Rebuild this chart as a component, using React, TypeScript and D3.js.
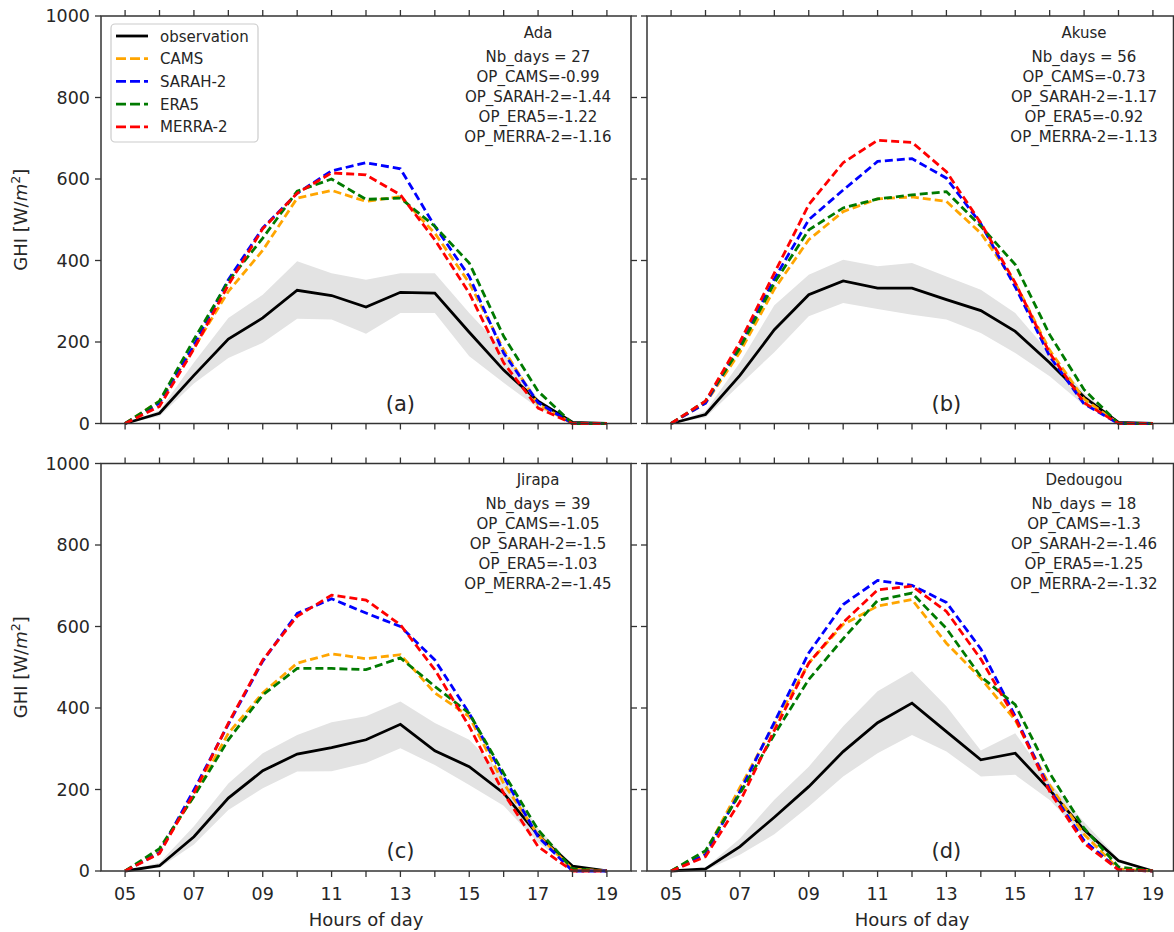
import React from "react";
import * as d3 from "d3";

// ---------- data ----------
const hours = [5, 6, 7, 8, 9, 10, 11, 12, 13, 14, 15, 16, 17, 18, 19];
const xTickLabels = ["05", "07", "09", "11", "13", "15", "17", "19"];
const yTicks = [0, 200, 400, 600, 800, 1000];
const seriesNames = ["CAMS", "SARAH-2", "ERA5", "MERRA-2"];
const seriesColors = ["#ffa500", "#0000ff", "#007a00", "#ff0000"];

// Ada
const obsAda = [0, 25, 118, 207, 259, 327, 314, 286, 322, 320, 224, 131, 55, 3, 0];
const lowAda = [0, 18, 98, 161, 198, 257, 255, 220, 271, 271, 165, 100, 38, 0, 0];
const highAda = [0, 32, 150, 259, 316, 398, 369, 353, 369, 369, 271, 181, 60, 3, 0];
const camsAda = [0, 55, 185, 324, 425, 553, 572, 545, 557, 467, 345, 181, 47, 0, 0];
const sarahAda = [0, 50, 192, 353, 480, 565, 620, 640, 625, 484, 361, 173, 51, 0, 0];
const era5Ada = [0, 55, 206, 349, 455, 570, 600, 550, 553, 484, 394, 214, 79, 0, 0];
const merraAda = [0, 42, 183, 340, 478, 565, 615, 610, 561, 451, 320, 149, 38, 0, 0];
const opAda = ["-0.99", "-1.44", "-1.22", "-1.16"];

// Akuse
const obsAkuse = [0, 22, 118, 230, 316, 350, 332, 332, 304, 277, 226, 149, 65, 3, 0];
const lowAkuse = [0, 15, 95, 175, 263, 296, 281, 267, 255, 222, 173, 116, 45, 0, 0];
const highAkuse = [0, 30, 150, 290, 365, 402, 386, 394, 361, 328, 271, 173, 75, 3, 0];
const camsAkuse = [0, 50, 175, 330, 451, 520, 551, 556, 545, 467, 345, 180, 60, 0, 0];
const sarahAkuse = [0, 50, 190, 355, 500, 573, 643, 650, 602, 490, 335, 165, 48, 0, 0];
const era5Akuse = [0, 55, 185, 345, 475, 529, 551, 561, 569, 484, 390, 218, 83, 0, 0];
const merraAkuse = [0, 55, 200, 369, 537, 640, 695, 690, 618, 492, 345, 173, 51, 0, 0];
const opAkuse = ["-0.73", "-1.17", "-0.92", "-1.13"];

// Jirapa
const obsJirapa = [0, 13, 84, 179, 246, 287, 303, 322, 360, 295, 256, 191, 88, 12, 0];
const lowJirapa = [0, 8, 65, 150, 203, 244, 245, 265, 301, 260, 211, 160, 70, 8, 0];
const highJirapa = [0, 20, 110, 215, 289, 334, 365, 380, 416, 363, 322, 235, 105, 15, 0];
const camsJirapa = [0, 50, 185, 338, 437, 510, 533, 521, 531, 437, 379, 215, 88, 5, 0];
const sarahJirapa = [0, 45, 199, 360, 515, 632, 668, 633, 600, 518, 387, 232, 84, 0, 0];
const era5Jirapa = [0, 55, 183, 322, 432, 497, 497, 494, 523, 453, 387, 240, 101, 5, 0];
const merraJirapa = [0, 43, 191, 363, 518, 625, 677, 665, 604, 494, 355, 191, 60, 0, 0];
const opJirapa = ["-1.05", "-1.5", "-1.03", "-1.45"];

// Dedougou
const obsDedougou = [0, 5, 60, 132, 207, 293, 364, 412, 342, 273, 289, 199, 101, 25, 0];
const lowDedougou = [0, 2, 40, 90, 158, 232, 289, 334, 293, 232, 236, 174, 85, 20, 0];
const highDedougou = [0, 8, 80, 175, 256, 355, 441, 490, 404, 296, 338, 218, 120, 30, 0];
const camsDedougou = [0, 45, 205, 360, 510, 605, 650, 666, 559, 473, 370, 210, 90, 5, 0];
const sarahDedougou = [0, 40, 195, 365, 535, 654, 713, 701, 659, 545, 380, 200, 75, 3, 0];
const era5Dedougou = [0, 50, 190, 335, 470, 570, 664, 682, 595, 477, 408, 240, 105, 10, 0];
const merraDedougou = [0, 35, 170, 345, 510, 610, 690, 699, 637, 520, 375, 195, 68, 3, 0];
const opDedougou = ["-1.3", "-1.46", "-1.25", "-1.32"];

const sites = ["Ada", "Akuse", "Jirapa", "Dedougou"];
const nbDays = [27, 56, 39, 18];
const panelLetters = ["(a)", "(b)", "(c)", "(d)"];

const panels = [
  { obs: obsAda, low: lowAda, high: highAda, models: [camsAda, sarahAda, era5Ada, merraAda], ops: opAda },
  { obs: obsAkuse, low: lowAkuse, high: highAkuse, models: [camsAkuse, sarahAkuse, era5Akuse, merraAkuse], ops: opAkuse },
  { obs: obsJirapa, low: lowJirapa, high: highJirapa, models: [camsJirapa, sarahJirapa, era5Jirapa, merraJirapa], ops: opJirapa },
  { obs: obsDedougou, low: lowDedougou, high: highDedougou, models: [camsDedougou, sarahDedougou, era5Dedougou, merraDedougou], ops: opDedougou },
];

// ---------- layout ----------
const FONT = "DejaVu Sans, sans-serif";
const TXT = "#262626";
const AX = "#333333";
const colLeft = [101, 647];
const rowTop = [16, 463.5];
const PW = 530;
const PH = 407.5;
const TICK = 6;
const DASH = "8,4";
const LW = 2.8;

const x = d3.scaleLinear().domain([4.3, 19.7]).range([0, PW]);
const y = d3.scaleLinear().domain([0, 1000]).range([PH, 0]);

function Panel({ idx }: { idx: number }) {
  const col = idx % 2;
  const row = Math.floor(idx / 2);
  const left = colLeft[col];
  const top = rowTop[row];
  const p = panels[idx];
  const frameW = col === 1 ? 1173.5 - left : PW;

  const line = d3
    .line<number>()
    .x((_, i) => x(hours[i]))
    .y((d) => y(d));
  const area = d3
    .area<number>()
    .x((_, i) => x(hours[i]))
    .y0((_, i) => y(p.low[i]))
    .y1((_, i) => y(p.high[i]));

  const statLines = [
    `Nb_days = ${nbDays[idx]}`,
    ...seriesNames.map((n, k) => `OP_${n}=${p.ops[k]}`),
  ];
  const cx = 437;

  return (
    <g transform={`translate(${left},${top})`}>
      <path d={area(p.obs) || ""} fill="#e3e3e3" stroke="none" />
      <path d={line(p.obs) || ""} fill="none" stroke="#000" strokeWidth={LW} />
      {p.models.map((m, k) => (
        <path
          key={k}
          d={line(m) || ""}
          fill="none"
          stroke={seriesColors[k]}
          strokeWidth={LW}
          strokeDasharray={DASH}
        />
      ))}
      {/* frame */}
      <rect x={0} y={0} width={frameW} height={PH} fill="none" stroke={AX} strokeWidth={1.5} />
      {/* x ticks top & bottom */}
      {hours.map((h) => (
        <g key={h}>
          <line x1={x(h)} x2={x(h)} y1={0} y2={-TICK} stroke={AX} strokeWidth={1.3} />
          <line x1={x(h)} x2={x(h)} y1={PH} y2={PH + TICK} stroke={AX} strokeWidth={1.3} />
        </g>
      ))}
      {/* y ticks left & right */}
      {yTicks.map((t) => (
        <g key={t}>
          <line x1={0} x2={-TICK} y1={y(t)} y2={y(t)} stroke={AX} strokeWidth={1.3} />
          <line x1={PW} x2={PW + TICK} y1={y(t)} y2={y(t)} stroke={AX} strokeWidth={1.3} />
        </g>
      ))}
      {col === 0 &&
        yTicks.map((t) => (
          <text
            key={t}
            x={-11}
            y={y(t) + 6.3}
            textAnchor="end"
            fontSize={17.5}
            fontFamily={FONT}
            fill={TXT}
          >
            {t}
          </text>
        ))}
      {row === 1 &&
        xTickLabels.map((lab) => (
          <text
            key={lab}
            x={x(+lab)}
            y={PH + 28.5}
            textAnchor="middle"
            fontSize={17.5}
            fontFamily={FONT}
            fill={TXT}
          >
            {lab}
          </text>
        ))}
      {row === 1 && (
        <text x={PW / 2} y={PH + 55} textAnchor="middle" fontSize={18} fontFamily={FONT} fill={TXT}>
          Hours of day
        </text>
      )}
      {col === 0 && (
        <text
          transform={`translate(-74,${PH / 2}) rotate(-90)`}
          textAnchor="middle"
          fontSize={18}
          fontFamily={FONT}
          fill={TXT}
        >
          GHI [W/<tspan fontStyle="italic">m</tspan>
          <tspan fontSize={12.5} dy={-7}>2</tspan>
          <tspan dy={7}>]</tspan>
        </text>
      )}
      {/* stats */}
      <text x={cx} y={21.5} textAnchor="middle" fontSize={15} fontFamily={FONT} fill={TXT}>
        {sites[idx]}
      </text>
      {statLines.map((s, k) => (
        <text
          key={k}
          x={cx}
          y={45.5 + k * 20}
          textAnchor="middle"
          fontSize={15}
          fontFamily={FONT}
          fill={TXT}
        >
          {s}
        </text>
      ))}
      {/* panel letter */}
      <text
        x={x(13)}
        y={y(50) + 7.5}
        textAnchor="middle"
        fontSize={21}
        fontFamily={FONT}
        fill={TXT}
      >
        {panelLetters[idx]}
      </text>
    </g>
  );
}

function Legend() {
  const lx = 111;
  const ly = 24;
  const entries = ["observation", ...seriesNames];
  const colors = ["#000", ...seriesColors];
  return (
    <g>
      <rect x={lx} y={ly} width={147} height={118} rx={4} fill="#fff" fillOpacity={0.85} stroke="#cccccc" strokeWidth={1.2} />
      {entries.map((e, k) => {
        const ey = 36 + k * 22.7;
        return (
          <g key={e}>
            <line
              x1={116}
              x2={148}
              y1={ey}
              y2={ey}
              stroke={colors[k]}
              strokeWidth={LW}
              strokeDasharray={k === 0 ? undefined : "10,4"}
            />
            <text x={160} y={ey + 5.5} fontSize={15} fontFamily={FONT} fill={TXT}>
              {e}
            </text>
          </g>
        );
      })}
    </g>
  );
}

export default function App() {
  return (
    <svg
      width={1174}
      height={932}
      style={{ position: "absolute", left: 0, top: 0, background: "#fff" }}
    >
      <rect x={0} y={0} width={1174} height={932} fill="#fff" />
      {[0, 1, 2, 3].map((i) => (
        <Panel key={i} idx={i} />
      ))}
      <Legend />
    </svg>
  );
}
